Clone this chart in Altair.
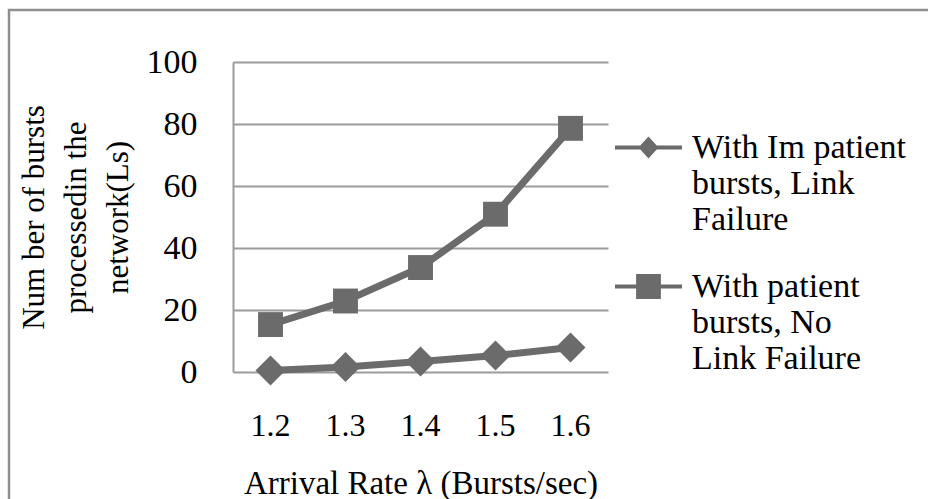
import altair as alt
import pandas as pd

# ---- data ----
rates = ["1.2", "1.3", "1.4", "1.5", "1.6"]
impatient_link_failure = [0.5, 1.6, 3.4, 5.3, 7.9]
patient_no_link_failure = [15.3, 22.9, 33.7, 50.9, 78.6]
series_names = ["With Impatient bursts, Link Failure",
                "With patient bursts, No Link Failure"]
legend_lines = [["With Im patient", "bursts, Link", "Failure"],
                ["With patient", "bursts, No", "Link Failure"]]
y_ticks = [0, 20, 40, 60, 80, 100]
x_title = "Arrival Rate λ (Bursts/sec)"
y_title = ["Num ber of bursts", "processedin the", "network(Ls)"]

rows = []
for r, a, b in zip(rates, impatient_link_failure, patient_no_link_failure):
    rows.append({"rate": r, "value": a, "series": series_names[0]})
    rows.append({"rate": r, "value": b, "series": series_names[1]})
df = pd.DataFrame(rows)

GRAY = "#6b6b6b"
GRID = "#9c9c9c"
FONT = "Liberation Serif"

label_expr = "datum.label == '%s' ? %s : %s" % (
    series_names[0],
    "[" + ",".join("'%s'" % s for s in legend_lines[0]) + "]",
    "[" + ",".join("'%s'" % s for s in legend_lines[1]) + "]",
)

x_enc = alt.X(
    "rate:N", sort=rates,
    scale=alt.Scale(type="band", paddingInner=0, paddingOuter=0),
    axis=alt.Axis(title=x_title, labelAngle=0, ticks=False, domain=False,
                  grid=False, labelPadding=38, titlePadding=26,
                  labelFontSize=32, titleFontSize=33, labelFont=FONT,
                  titleFont=FONT, titleFontWeight="normal",
                  labelColor="black", titleColor="black"),
)
y_enc = alt.Y(
    "value:Q",
    scale=alt.Scale(domain=[0, 100], nice=False, zero=True),
    axis=alt.Axis(values=y_ticks, title=y_title, ticks=False, domain=True,
                  domainColor=GRID, domainWidth=2, grid=True, gridColor=GRID,
                  gridWidth=2, labelPadding=36, titlePadding=12,
                  labelFontSize=34, titleFontSize=31, labelFont=FONT,
                  titleFont=FONT, titleFontWeight="normal", titleLineHeight=42,
                  labelColor="black", titleColor="black"),
)

base = alt.Chart(df)

lines = base.mark_line(strokeWidth=7, color=GRAY).encode(
    x=x_enc, y=y_enc, detail="series:N")

points = base.mark_point(filled=True, opacity=1, color=GRAY).encode(
    x=x_enc, y=y_enc,
    shape=alt.Shape("series:N",
                    scale=alt.Scale(domain=series_names, range=["diamond", "square"]),
                    legend=None),
    size=alt.Size("series:N",
                  scale=alt.Scale(domain=series_names, range=[900, 620]),
                  legend=None),
)

diamond_line = ("M-1,-0.06H1V0.06H-1Z "
                "M-0.3,0L0,-0.33L0.3,0L0,0.33Z")
square_line = ("M-1,-0.06H1V0.06H-1Z "
               "M-0.37,-0.37H0.37V0.37H-0.37Z")

legend_layer = base.transform_filter("false").mark_point(
    filled=True, opacity=1, color=GRAY).encode(
    x=x_enc, y=y_enc,
    shape=alt.Shape(
        "series:N",
        scale=alt.Scale(domain=series_names, range=[diamond_line, square_line]),
        legend=alt.Legend(
            title=None, orient="none", legendX=382, legendY=52,
            symbolSize=4489, symbolFillColor=GRAY, symbolStrokeWidth=0,
            symbolOpacity=1, labelExpr=label_expr, labelFont=FONT,
            labelFontSize=34, labelLimit=400,
            labelBaseline="middle", labelOffset=10, rowPadding=16,
            labelColor="black"),
    ),
)

frame = alt.Chart(alt.Data(values=[{}])).mark_rect(
    fillOpacity=0, stroke="#8f8f8f", strokeWidth=2.5).encode(
    x=alt.value(-224), x2=alt.value(760), y=alt.value(-52), y2=alt.value(490))

chart = alt.layer(frame, lines, points, legend_layer).resolve_scale(
    shape="independent", size="independent").properties(
    width=375, height=310,
    autosize=alt.AutoSizeParams(type="none"),
    padding={"left": 233, "top": 62, "right": 320, "bottom": 127},
    background="white",
).configure_view(stroke=None)

chart.save("out.html", embed_options={"renderer": "svg", "actions": False})
